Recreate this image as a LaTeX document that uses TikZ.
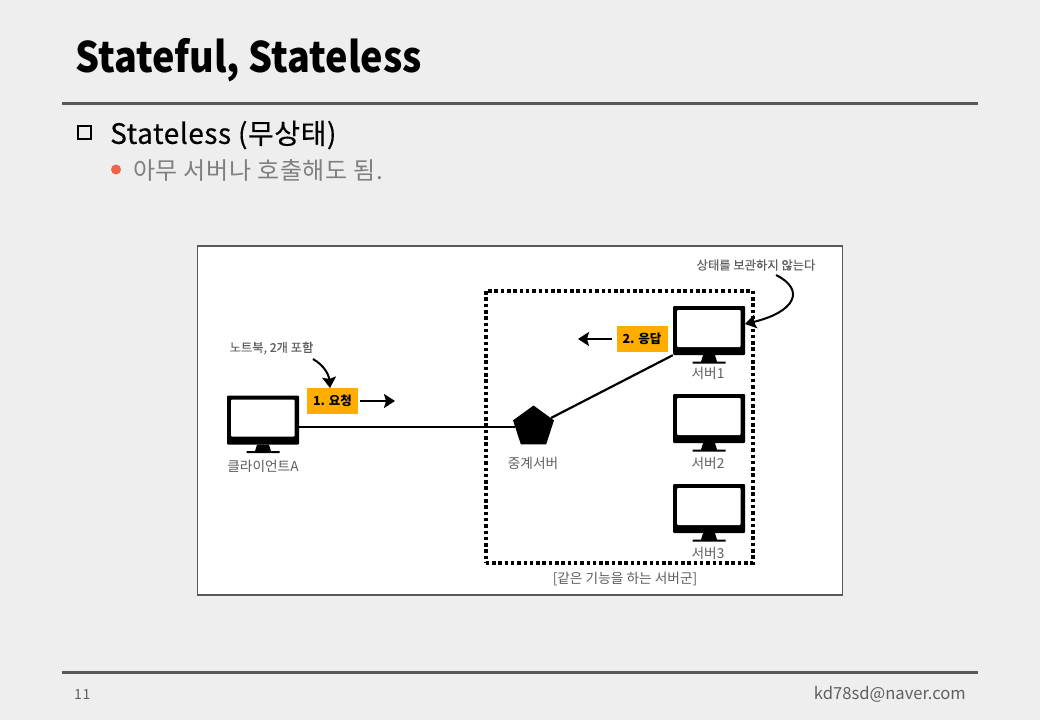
\documentclass[tikz,border=0pt]{standalone}
\usepackage{fontspec}
\setmainfont{Noto Sans CJK KR}
\usetikzlibrary{arrows.meta,shapes.geometric}
\definecolor{slidebg}{HTML}{EEEEEE}
\definecolor{rulegray}{HTML}{595959}
\definecolor{labelgray}{HTML}{5F5F5F}
\definecolor{bodygray}{HTML}{7F7F7F}
\definecolor{tagorange}{HTML}{FFAE00}
\definecolor{bulletred}{HTML}{F0634A}
\tikzset{
  monitor/.style={fill=black, rounded corners=1pt, minimum width=72pt, minimum height=49pt, inner sep=0pt,
    path picture={\fill[white] ([shift={(4pt,4pt)}]path picture bounding box.south west|-path picture bounding box.north) ++(0pt,-8pt) rectangle ++(63.5pt,-37pt);}},
  tag/.style={fill=tagorange, minimum width=51pt, minimum height=26pt, inner sep=0pt, font=\fontsize{12.5}{13}\selectfont\bfseries},
  small/.style={text=labelgray, inner sep=0pt, font=\fontsize{13.7}{15}\selectfont},
  tiny/.style={text=labelgray, inner sep=0pt, font=\fontsize{12.3}{14}\selectfont\addfontfeature{FakeBold=0.2}},
  wire/.style={line width=2.2pt},
  pointer/.style={line width=2pt, -{Stealth[length=11pt,width=14pt,inset=2pt]}},
  slidetext/.style={anchor=west, inner sep=0pt}
}
\begin{document}
\begin{tikzpicture}[x=1pt, y=-1pt]
    \useasboundingbox (0, 0) rectangle (1040, 720);
    \fill[slidebg] (0, 0) rectangle (1040, 720);
    % slide frame
    \node[slidetext, xscale=0.9, transform shape, font=\fontsize{42}{46}\selectfont\bfseries] (title) at (75, 60) {Stateful, Stateless};
    \coordinate (headl) at (62, 103);
    \coordinate (headr) at (978, 103);
    \coordinate (footl) at (62, 672);
    \coordinate (footr) at (978, 672);
    \draw [rulegray, line width=3pt] (headl) to (headr);
    \draw [rulegray, line width=3pt] (footl) to (footr);
    \node[draw, line width=2pt, minimum size=13pt, inner sep=0pt] (check) at (84, 132.5) {};
    \node[slidetext, font=\fontsize{28}{31}\selectfont\addfontfeature{FakeBold=0.4,LetterSpace=2}] (head) at (110, 135) {Stateless (무상태)};
    \node[circle, fill=bulletred, minimum size=10pt, inner sep=0pt] (dot) at (116, 169.5) {};
    \node[slidetext, text=bodygray, font=\fontsize{24}{28}\selectfont\addfontfeature{LetterSpace=2.5}] (body) at (133, 170) {아무 서버나 호출해도 됨.};
    \node[slidetext, text=labelgray, font=\fontsize{14}{16}\selectfont\addfontfeature{LetterSpace=5}] (page) at (74, 694) {11};
    \node[anchor=east, inner sep=0pt, text=labelgray, font=\fontsize{16.6}{18}\selectfont] (mail) at (966, 694) {kd78sd@naver.com};
    % figure
    \node[draw=rulegray, fill=white, line width=1.5pt, minimum width=645pt, minimum height=349pt, inner sep=0pt] (figure) at (520, 420.5) {};
    \node[draw, dash pattern=on 3.5pt off 2.8pt, line width=4pt, minimum width=267pt, minimum height=272pt, inner sep=0pt] (group) at (619.2, 426.7) {};
    \node[monitor] (client) at (263, 420) {};
    \node[monitor] (srvone) at (709, 330.5) {};
    \node[monitor] (srvtwo) at (709, 418.5) {};
    \node[monitor] (srvthree) at (709, 508.5) {};
    \foreach \m in {client, srvone, srvtwo, srvthree} {
      \fill (\m.south) ++(-6pt, 0pt) -- ++(12pt, 0pt) -- ++(2pt, -6.5pt) -- ++(8.5pt, 0pt) -- ++(0pt, -2pt) -- ++(-33pt, 0pt) -- ++(0pt, 2pt) -- ++(8.5pt, 0pt) -- cycle;
    }
    \node[regular polygon, regular polygon sides=5, fill=black, minimum size=43pt, inner sep=0pt] (relay) at (533.5, 427) {};
    \node[small] (lclient) at (263, 466) {클라이언트A};
    \node[small] (lrelay) at (533, 463) {중계서버};
    \node[small] (lone) at (708, 373) {서버1};
    \node[small] (ltwo) at (708, 463) {서버2};
    \node[small] (lthree) at (708, 553) {서버3};
    \node[small] (lgroup) at (625, 579) {[같은 기능을 하는 서버군]};
    \node[tiny] (note) at (271.5, 348) {노트북, 2개 포함};
    \node[tiny] (keep) at (756, 265) {상태를 보관하지 않는다};
    \node[tag] (req) at (332.5, 401) {1. 요청};
    \node[tag] (res) at (642, 339) {2. 응답};
    \coordinate (reqend) at (395, 401);
    \coordinate (resend) at (578, 339);
    \coordinate (notefrom) at (313, 359);
    \coordinate (noteto) at (330, 388);
    \coordinate (keepfrom) at (776, 275);
    \coordinate (keepto) at (745, 324);
    \draw [wire] (client.east |- relay.center) to (relay);
    \draw [wire] (relay) to (srvone.south west);
    \draw [pointer] (req.east) ++(2pt, 0pt) to (reqend);
    \draw [pointer] (res.west) ++(-4pt, 0pt) to (resend);
    \draw [pointer] (notefrom) to [out=-30, in=95] (noteto);
    \draw [pointer] (keepfrom) .. controls (806, 290) and (795, 312) .. (keepto);
  \end{tikzpicture}
\end{document}
